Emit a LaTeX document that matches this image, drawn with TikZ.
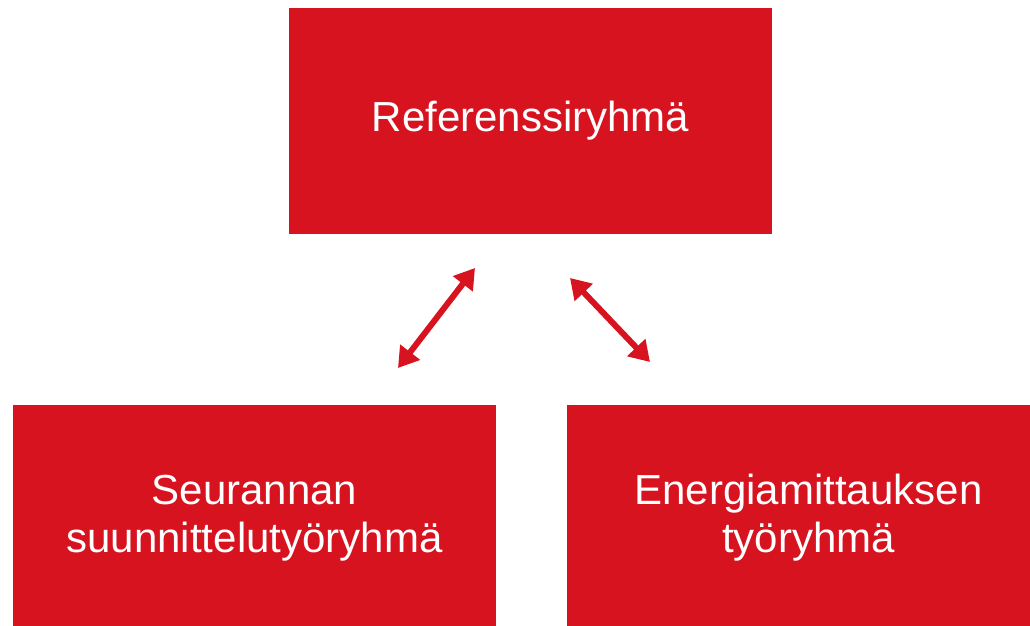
\documentclass[tikz,border=0pt]{standalone}
\usepackage{fontspec}
\setmainfont{Liberation Sans}
\usetikzlibrary{arrows.meta}
\definecolor{groupred}{RGB}{214,19,31}
\tikzset{
    groupbox/.style={fill=groupred, text=white, minimum width=483pt, minimum height=226pt,
        align=center, inner sep=0pt, font=\fontsize{42}{48}\selectfont},
    link/.style={groupred, line width=6pt, {Triangle[length=20pt,width=24pt]}-{Triangle[length=20pt,width=24pt]}}
}
\begin{document}
\begin{tikzpicture}[x=1pt,y=1pt]
                \clip (0,0) rectangle (1030,625);
                \node[groupbox] (ref) at (530.5,504) {Referenssiryhmä};
                \node[groupbox] (seuranta) at (254.5,107) {Seurannan\\suunnittelutyöryhmä};
                \node[groupbox] (energia) at (808.5,107) {Energiamittauksen\\työryhmä};

                \coordinate (refleft) at (475,357); \coordinate (seurantatop) at (398,257);
                \coordinate (refright) at (570,347); \coordinate (energiatop) at (650,263);

                \draw[link] (refleft) to (seurantatop);
                \draw[link] (refright) to (energiatop);
            \end{tikzpicture}
\end{document}
